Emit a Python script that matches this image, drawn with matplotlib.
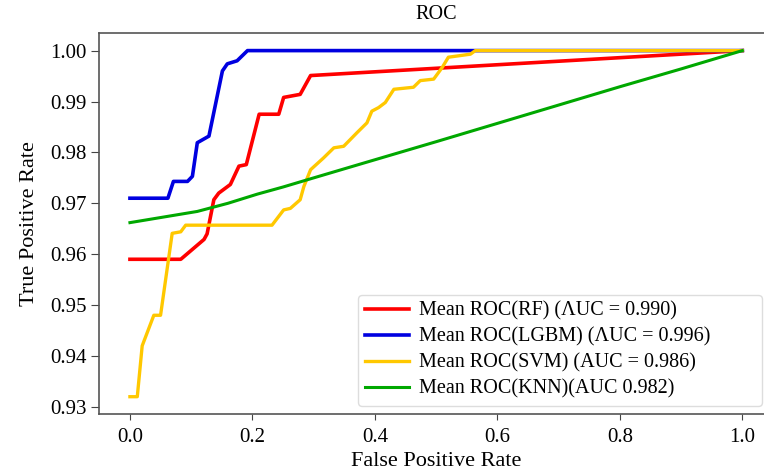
import numpy as np
import matplotlib
matplotlib.use("Agg")
import matplotlib.pyplot as plt

plt.rcParams["font.family"] = ["Liberation Serif", "DejaVu Serif"]

# mean ROC curves
rf_fpr = [0.0, 0.083, 0.121, 0.126, 0.137, 0.145, 0.164, 0.178, 0.19, 0.211, 0.243, 0.251, 0.278, 0.295, 1.0]
rf_tpr = [0.959, 0.959, 0.9629, 0.964, 0.9707, 0.972, 0.9737, 0.9773, 0.9776, 0.9875, 0.9875, 0.9908, 0.9914, 0.9951, 1.0]

lgbm_fpr = [0.0, 0.062, 0.071, 0.094, 0.102, 0.110, 0.129, 0.151, 0.159, 0.175, 0.192, 0.561, 1.0]
lgbm_tpr = [0.971, 0.971, 0.9743, 0.9743, 0.9753, 0.9819, 0.9832, 0.9960, 0.9974, 0.998, 1.0, 1.0, 1.0]

svm_fpr = [0.0, 0.012, 0.020, 0.039, 0.05, 0.069, 0.083, 0.091, 0.232, 0.251, 0.262, 0.278,
           0.284, 0.295, 0.316, 0.333, 0.349, 0.371, 0.387, 0.395, 0.406, 0.417, 0.431, 0.463,
           0.474, 0.496, 0.510, 0.520, 0.556, 0.564, 1.0]
svm_tpr = [0.932, 0.932, 0.942, 0.948, 0.948, 0.9641, 0.9644, 0.9657, 0.9657, 0.9687, 0.969, 0.9707,
           0.9733, 0.9766, 0.9789, 0.9809, 0.9812, 0.9839, 0.9858, 0.9881, 0.9888, 0.9898, 0.9924, 0.9928,
           0.9941, 0.9944, 0.9967, 0.9987, 0.9993, 1.0, 1.0]

knn_fpr = [0.0, 0.05, 0.11, 0.16, 0.208, 0.25, 0.289, 0.376, 0.5, 0.6, 0.7, 0.8, 0.9, 1.0]
knn_tpr = [0.9662, 0.9672, 0.9684, 0.9700, 0.9718, 0.9732, 0.9746, 0.9777, 0.9821, 0.9857, 0.9893, 0.9929, 0.9964, 1.0]

labels = ["Mean ROC(RF) (ΛUC = 0.990)",
          "Mean ROC(LGBM) (ΛUC = 0.996)",
          "Mean ROC(SVM) (AUC = 0.986)",
          "Mean ROC(KNN)(AUC 0.982)"]

fig = plt.figure(figsize=(7.64, 4.75), dpi=100)
ax = fig.add_axes([0.130, 0.1284, 0.8817, 0.8015])

ax.plot(rf_fpr, rf_tpr, color="#ff0000", lw=2.6, label=labels[0])
ax.plot(lgbm_fpr, lgbm_tpr, color="#0000e0", lw=2.6, label=labels[1])
ax.plot(svm_fpr, svm_tpr, color="#ffc800", lw=2.4, label=labels[2])
ax.plot(knn_fpr, knn_tpr, color="#00a800", lw=2.2, label=labels[3])

ax.set_title("ROC", fontsize=14.5, pad=10)
ax.set_xlabel("False Positive Rate", fontsize=16, labelpad=4)
ax.set_ylabel("True Positive Rate", fontsize=16, labelpad=8)
ax.set_yticks([0.93, 0.94, 0.95, 0.96, 0.97, 0.98, 0.99, 1.00])
ax.tick_params(labelsize=15, color="#444444")
ax.tick_params(axis="y", length=6, pad=3)
ax.tick_params(axis="x", length=4, pad=6)
for s in ax.spines.values():
    s.set_color("#555555")
    s.set_linewidth(1.2)

ax.legend(loc="lower left", bbox_to_anchor=(0.384, 0.0218, 0.600, 0.28), mode="expand",
          borderaxespad=0, fontsize=14.5, handlelength=2.2, handletextpad=0.5,
          labelspacing=0.33, borderpad=0.35, framealpha=1, edgecolor="#dddddd")

fig.savefig("out.png", dpi=100)
